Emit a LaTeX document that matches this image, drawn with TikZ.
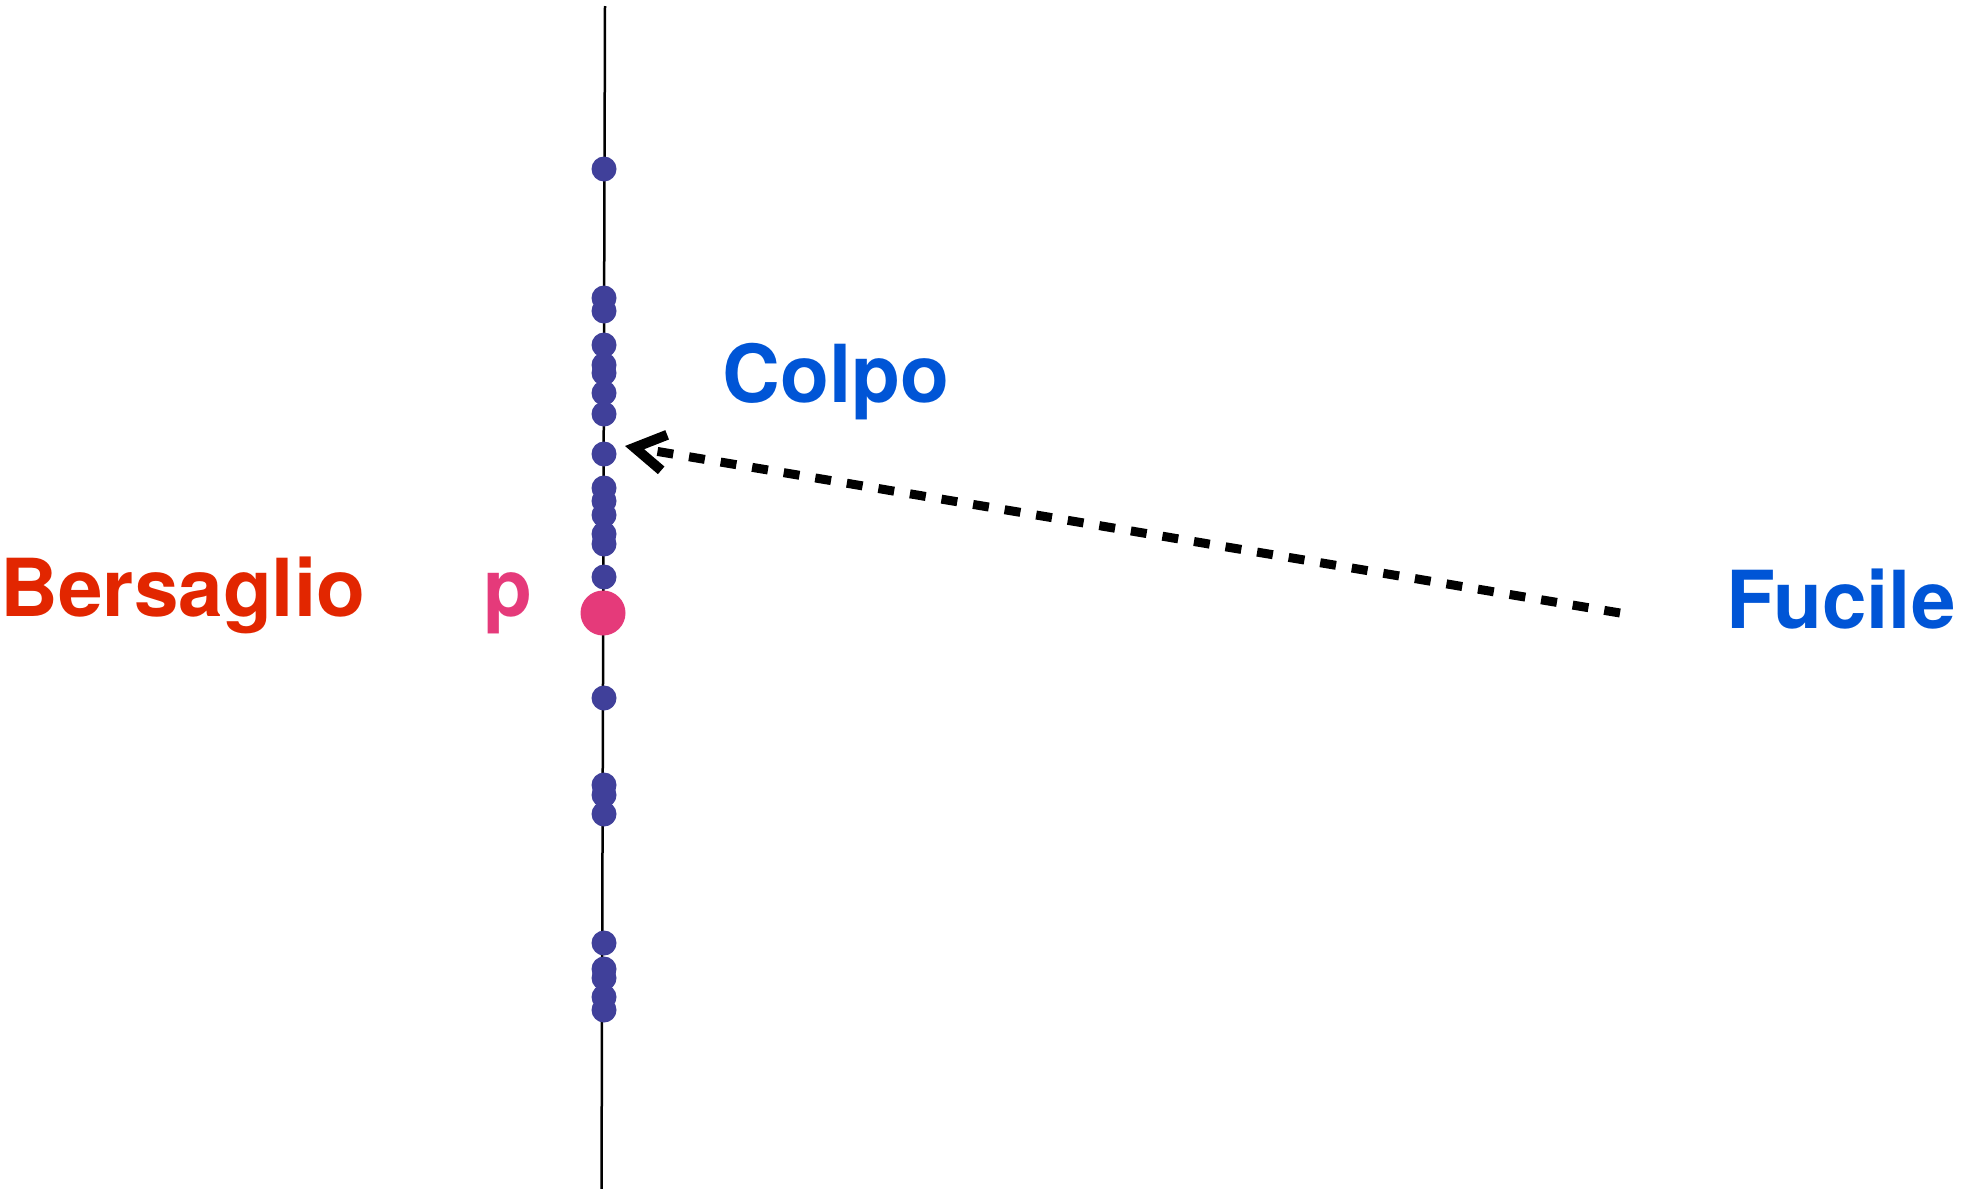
\documentclass[tikz,border=0pt]{standalone}
\usepackage{fontspec}
\setmainfont{TeX Gyre Heros}
\usetikzlibrary{arrows.meta}
\definecolor{rosso}{RGB}{226,38,0}
\definecolor{blu}{RGB}{0,85,214}
\definecolor{rosa}{RGB}{229,58,122}
\definecolor{viola}{RGB}{64,64,154}
\begin{document}
\begin{tikzpicture}[x=0.5pt,y=-0.5pt]
    \useasboundingbox (0,0) rectangle (1961,1189);
    %%%%%%%%%%%%%%%%%%%%%%%%%%%%%%%%%%%%%% Bersaglio
    \draw[line width=1.25pt] (605,6)--(601.5,1189);

    %%%%%%%%%%%%%%%%%%%%%%%%%%%%%%%%%%%%%% Colpi
    \tikzstyle{colpo}=[circle,fill=viola,inner sep=0pt,minimum size=12.5pt]
    \foreach \y [count=\i] in {169,298,311,345,365,373,393,414,454,488,501,515,534,544,577,698,785,795,814,943,969,978,997,1010}
        \node[colpo] (c\i) at (604,\y){};
    \node[circle,fill=rosa,inner sep=0pt,minimum size=22.5pt] (centro) at (603,613){};

    %%%%%%%%%%%%%%%%%%%%%%%%%%%%%%%%%%%%%% Etichette
    \tikzstyle{etichetta}=[font=\fontsize{40}{48}\selectfont\bfseries,inner sep=0pt,anchor=base west]
    \node[etichetta,text=rosso] (bersaglio) at (0,616){Bersaglio};
    \node[etichetta,text=rosa] (lettera) at (483,616){p};
    \node[etichetta,text=blu] (colpo) at (722,402){Colpo};
    \node[etichetta,text=blu] (fucile) at (1726,628){Fucile};

    %%%%%%%%%%%%%%%%%%%%%%%%%%%%%%%%%%%%%% Sparo
    \tikzstyle{sparo}=[line width=4.5pt,dash pattern=on 8pt off 8pt,-{Straight Barb[length=15pt,width=18pt,line width=5pt]}]
    \coordinate (canna) at (1620,613);
    \coordinate (impatto) at (625,446);
    \draw[sparo] (canna)--(impatto);
\end{tikzpicture}
\end{document}
